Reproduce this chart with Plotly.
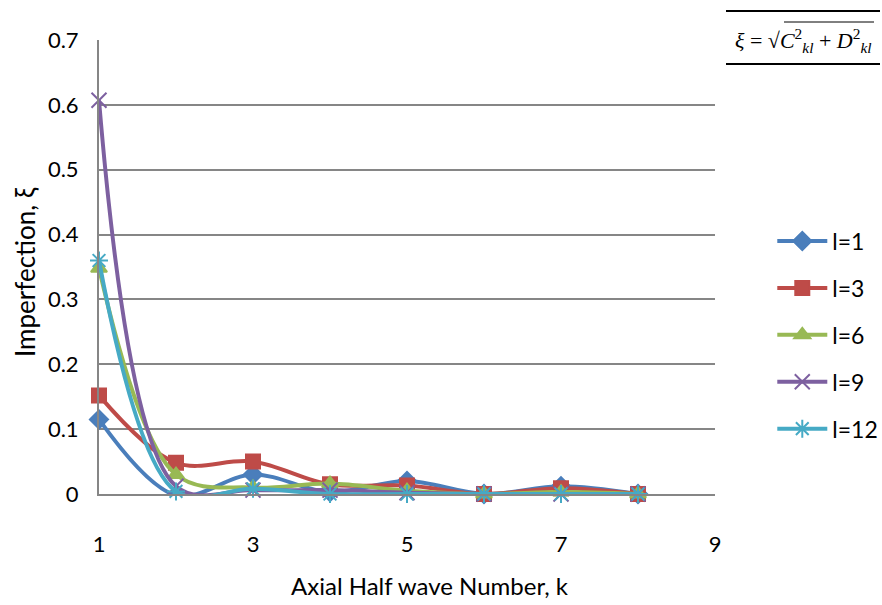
import plotly.graph_objects as go

k = [1, 2, 3, 4, 5, 6, 7, 8]
l1 = [0.115, -0.002, 0.03, 0.003, 0.02, 0.0, 0.012, 0.0]
l3 = [0.152, 0.048, 0.05, 0.015, 0.013, 0.0, 0.009, 0.0]
l6 = [0.348, 0.03, 0.01, 0.016, 0.005, 0.0, 0.003, 0.0]
l9 = [0.607, 0.012, 0.006, 0.006, 0.002, 0.0, 0.0, 0.0]
l12 = [0.36, 0.004, 0.008, 0.0, 0.0, 0.0, 0.0, 0.0]

names = ["l=1", "l=3", "l=6", "l=9", "l=12"]
series = [l1, l3, l6, l9, l12]
colors = ["#4A7EBB", "#BE4B48", "#98B954", "#7D60A0", "#46AAC5"]
symbols = ["diamond", "square", "triangle-up", "x-thin", "asterisk"]
msizes = [14, 14, 14, 15, 15]

FONT = "Lato, Calibri, sans-serif"

fig = go.Figure()
for nm, ys, c, s, ms in zip(names, series, colors, symbols, msizes):
    fig.add_trace(go.Scatter(
        x=k, y=ys, name=nm, mode="lines+markers",
        line=dict(color=c, width=4, shape="spline", smoothing=1.0),
        marker=dict(symbol=s, size=ms, color=c, line=dict(color=c, width=2)),
        cliponaxis=False, legendgroup=nm,
    ))

fig.update_layout(
    width=882, height=605,
    margin=dict(l=99, r=167, t=40, b=111, autoexpand=False),
    paper_bgcolor="white", plot_bgcolor="white",
    font=dict(family=FONT, size=22, color="black"),
    showlegend=True,
    legend=dict(x=1.093, xanchor="left", y=0.35, yanchor="middle",
                font=dict(size=23), tracegroupgap=14, itemwidth=50,
                bgcolor="rgba(0,0,0,0)"),
    xaxis=dict(range=[1, 9], tickvals=[1, 3, 5, 7, 9], showgrid=False,
               zeroline=False, showline=True, linecolor="#868686", linewidth=2,
               ticks="outside", ticklen=30, tickcolor="rgba(0,0,0,0)",
               tickfont=dict(size=22)),
    yaxis=dict(range=[0, 0.7], tickvals=[0, 0.1, 0.2, 0.3, 0.4, 0.5, 0.6, 0.7],
               ticktext=["0", "0.1", "0.2", "0.3", "0.4", "0.5", "0.6", "0.7"],
               showgrid=True, gridcolor="#868686", gridwidth=1.5,
               zeroline=False, showline=True, linecolor="#868686", linewidth=2,
               ticks="outside", ticklen=14, tickcolor="rgba(0,0,0,0)",
               tickfont=dict(size=22)),
)

fig.add_annotation(xref="paper", yref="paper", x=-(99-25)/616, y=(494-272)/454,
                   text="Imperfection, ξ", textangle=-90, showarrow=False,
                   font=dict(size=26), xanchor="center", yanchor="middle")
fig.add_annotation(xref="paper", yref="paper", x=(430-99)/616, y=-(585-494)/454,
                   text="Axial Half wave Number, k", showarrow=False,
                   font=dict(size=24), xanchor="center", yanchor="middle")

# formula box
fig.add_annotation(xref="paper", yref="paper", x=(803-99)/616, y=(494-40)/454,
                   text="<i>ξ</i> = √<i>C</i><sup>2</sup><sub><i>kl</i></sub> + <i>D</i><sup>2</sup><sub><i>kl</i></sub>",
                   showarrow=False, font=dict(family="Liberation Serif, serif", size=22),
                   xanchor="center", yanchor="middle")
fig.add_shape(type="line", xref="paper", yref="paper",
              x0=(726-99)/616, x1=(880-99)/616, y0=(494-11)/454, y1=(494-11)/454,
              line=dict(color="black", width=2))
fig.add_shape(type="line", xref="paper", yref="paper",
              x0=(726-99)/616, x1=(880-99)/616, y0=(494-64)/454, y1=(494-64)/454,
              line=dict(color="black", width=2))
fig.add_shape(type="line", xref="paper", yref="paper",
              x0=(784-99)/616, x1=(874-99)/616, y0=(494-22)/454, y1=(494-22)/454,
              line=dict(color="black", width=1))

fig.write_html("out.html")
